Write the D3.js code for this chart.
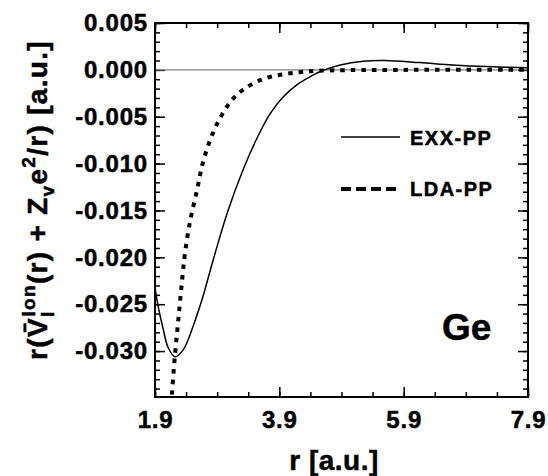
<!DOCTYPE html>
<html lang="en">
<head>
    <meta charset="UTF-8">
    <title>Ge pseudopotential</title>
    <script src="https://d3js.org/d3.v7.min.js"></script>
    <style>
        body { margin: 0; background: #fff; }
        text { font-family: "Liberation Sans", Arial, Helvetica, sans-serif; font-weight: bold; fill: #000; stroke: #000; stroke-width: 0.5px; }
        .tick line { stroke: #000; stroke-width: 1.5px; }
        .tick text { font-size: 24px; letter-spacing: 0.8px; }
    </style>
</head>
<body>
    <script>
        // tick labels
        const xTicks = [1.9, 3.9, 5.9, 7.9];
        const yTicks = [0.005, 0.000, -0.005, -0.010, -0.015, -0.020, -0.025, -0.030];

        // EXX-PP (solid)
        const exxR = [1.9, 1.95, 2.03, 2.11, 2.22, 2.35, 2.51, 2.67, 2.78, 2.9, 3.07, 3.32, 3.54, 3.75, 3.96, 4.18, 4.39, 4.55, 4.63, 4.88, 5.25, 5.6, 6.16, 6.69, 7.24, 7.9];
        const exxV = [-0.0232, -0.0252, -0.0276, -0.0296, -0.0306, -0.0299, -0.0274, -0.0242, -0.0216, -0.0188, -0.0151, -0.0106, -0.0073, -0.0047, -0.0029, -0.0016, -0.00075, -0.0002, 0, 0.00053, 0.00093, 0.001, 0.00078, 0.00053, 0.00035, 0.00022];

        // LDA-PP (dashed)
        const ldaR = [2.14, 2.17, 2.21, 2.24, 2.27, 2.30, 2.35, 2.38, 2.46, 2.58, 2.67, 2.78, 2.91, 3.06, 3.18, 3.32, 3.59, 3.91, 4.23, 4.5, 5.0, 6.0, 7.0, 7.9];
        const ldaV = [-0.0380, -0.0349, -0.0313, -0.0291, -0.0270, -0.0249, -0.0215, -0.0197, -0.0163, -0.0127, -0.0099, -0.0076, -0.0056, -0.0039, -0.0029, -0.0021, -0.0011, -0.00053, -0.00025, -0.0001, -0.00003, 0, 0, 0];

        const width = 548, height = 476;
        const pLeft = 155, pRight = 528, pTop = 23, pBottom = 397;

        const svg = d3.select("body").append("svg")
            .attr("width", width)
            .attr("height", height);

        const x = d3.scaleLinear().domain([1.9, 7.9]).range([pLeft, pRight]);
        const y = d3.scaleLinear().domain([-0.0349, 0.005]).range([pBottom, pTop]);

        const yMinor = d3.range(-34, 6).map(d => d / 1000);
        const xMinor = d3.range(0, 13).map(d => 1.9 + d * 0.5);
        const fmtY = d => d.toFixed(3);

        // minor ticks on all four sides
        const minor = [
            [d3.axisLeft(y).tickValues(yMinor), `translate(${pLeft},0)`],
            [d3.axisRight(y).tickValues(yMinor), `translate(${pRight},0)`],
            [d3.axisBottom(x).tickValues(xMinor), `translate(0,${pBottom})`],
            [d3.axisTop(x).tickValues(xMinor), `translate(0,${pTop})`]
        ];
        minor.forEach(([ax, tr]) => {
            svg.append("g").attr("transform", tr)
                .call(ax.tickSize(-5).tickFormat(""))
                .call(g => g.select(".domain").remove());
        });

        // major ticks
        svg.append("g").attr("transform", `translate(${pLeft},0)`)
            .call(d3.axisLeft(y).tickValues(yTicks).tickSize(-10).tickPadding(7).tickFormat(fmtY))
            .call(g => g.select(".domain").remove());
        svg.append("g").attr("transform", `translate(${pRight},0)`)
            .call(d3.axisRight(y).tickValues(yTicks).tickSize(-10).tickFormat(""))
            .call(g => g.select(".domain").remove());
        svg.append("g").attr("transform", `translate(0,${pBottom})`)
            .call(d3.axisBottom(x).tickValues(xTicks).tickSize(-10).tickPadding(14).tickFormat(d => d.toFixed(1)))
            .call(g => g.select(".domain").remove());
        svg.append("g").attr("transform", `translate(0,${pTop})`)
            .call(d3.axisTop(x).tickValues(xTicks).tickSize(-10).tickFormat(""))
            .call(g => g.select(".domain").remove());
        svg.selectAll(".tick text").attr("fill", "#000");

        // zero line
        svg.append("line")
            .attr("x1", x(1.9)).attr("x2", x(7.9))
            .attr("y1", y(0)).attr("y2", y(0))
            .attr("stroke", "#808080").attr("stroke-width", 1.3);

        svg.append("clipPath").attr("id", "clip")
            .append("rect").attr("x", pLeft).attr("y", pTop)
            .attr("width", pRight - pLeft).attr("height", pBottom - pTop);

        const line = d3.line()
            .x(d => x(d[0]))
            .y(d => y(d[1]))
            .curve(d3.curveCatmullRom.alpha(0.5));

        svg.append("path")
            .datum(ldaR.map((r, i) => [r, ldaV[i]]))
            .attr("clip-path", "url(#clip)")
            .attr("d", line)
            .attr("fill", "none")
            .attr("stroke", "#000")
            .attr("stroke-width", 4)
            .attr("stroke-dasharray", "4.5,6");

        svg.append("path")
            .datum(exxR.map((r, i) => [r, exxV[i]]))
            .attr("clip-path", "url(#clip)")
            .attr("d", line)
            .attr("fill", "none")
            .attr("stroke", "#000")
            .attr("stroke-width", 1.5);

        // frame
        svg.append("rect")
            .attr("x", pLeft).attr("y", pTop)
            .attr("width", pRight - pLeft).attr("height", pBottom - pTop)
            .attr("fill", "none").attr("stroke", "#000").attr("stroke-width", 2);

        // legend
        svg.append("line").attr("x1", 341).attr("x2", 400).attr("y1", 137).attr("y2", 137)
            .attr("stroke", "#000").attr("stroke-width", 1.5);
        svg.append("line").attr("x1", 341).attr("x2", 400).attr("y1", 189).attr("y2", 189)
            .attr("stroke", "#000").attr("stroke-width", 4).attr("stroke-dasharray", "10,5");
        svg.append("text").attr("x", 410).attr("y", 145)
            .style("font-size", "20px").style("letter-spacing", "1.5px").text("EXX-PP");
        svg.append("text").attr("x", 410).attr("y", 196)
            .style("font-size", "20px").style("letter-spacing", "1.5px").text("LDA-PP");

        svg.append("text").attr("x", 442).attr("y", 340)
            .style("font-size", "37px").text("Ge");

        // axis titles
        svg.append("text").attr("x", 334).attr("y", 470)
            .attr("text-anchor", "middle")
            .style("font-size", "28px").style("letter-spacing", "0.5px")
            .text("r [a.u.]");

        const yt = svg.append("text")
            .attr("transform", "translate(47,200) rotate(-90)")
            .attr("text-anchor", "middle")
            .style("font-size", "28px").style("letter-spacing", "1.3px");
        yt.append("tspan").text("r(V\u0304");
        yt.append("tspan").style("font-size", "19px").attr("dy", 7).text("l");
        yt.append("tspan").style("font-size", "19px").attr("dx", -6).attr("dy", -19).text("Ion");
        yt.append("tspan").attr("dy", 12).text("(r) + Z");
        yt.append("tspan").style("font-size", "19px").attr("dy", 7).text("v");
        yt.append("tspan").attr("dy", -7).text("e");
        yt.append("tspan").style("font-size", "19px").attr("dy", -12).text("2");
        yt.append("tspan").attr("dy", 12).text("/r) [a.u.]");
    </script>
</body>
</html>
